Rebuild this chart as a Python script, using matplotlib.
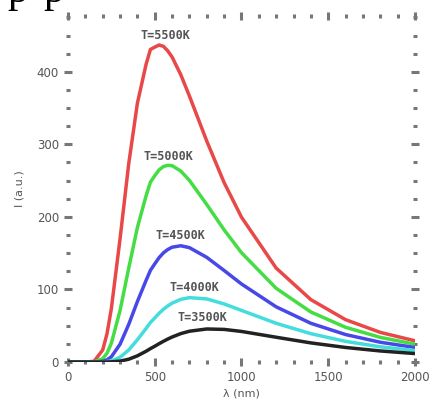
import matplotlib.pyplot as plt
from matplotlib.ticker import MultipleLocator

# wavelength (nm) and curve heights
wavelength = [0, 100, 150, 200, 225, 250, 300, 350, 400, 450, 475, 500, 525, 550, 575,
              600, 650, 700, 800, 900, 1000, 1200, 1400, 1600, 1800, 2000]
t5500 = [0, 0, 0.9, 16.5, 39.1, 73.8, 169.7, 273.2, 356.7, 410.2, 430.7, 434.0, 436.9,
         435.1, 428.9, 420.3, 396.0, 366.5, 304.4, 247.2, 199.6, 129.4, 85.9, 58.3,
         40.8, 29.2]
t5000 = [0, 0, 0.1, 4.5, 12.2, 25.9, 70.9, 129.3, 185.4, 229.0, 247.9, 256.7, 264.8,
         269.4, 271.1, 270.6, 263.2, 250.3, 217.0, 182.1, 150.6, 101.5, 68.9, 47.8,
         33.9, 24.5]
t4500 = [0, 0, 0, 0.9, 3.0, 7.2, 24.4, 51.8, 83.3, 112.4, 126.3, 135.2, 143.8,
         150.4, 155.0, 158.2, 160.2, 157.6, 144.2, 126.1, 107.5, 76.0, 53.3, 37.8,
         27.2, 20.0]
t4000 = [0, 0, 0, 0.1, 0.5, 1.5, 6.5, 16.5, 30.7, 46.2, 54.4, 60.7, 67.1,
         72.6, 77.2, 81.1, 86.3, 88.7, 86.9, 80.0, 71.1, 53.3, 39.0, 28.4,
         20.9, 15.7]
t3500 = [0, 0, 0, 0, 0, 0.2, 1.2, 3.8, 8.5, 14.8, 18.4, 21.7, 25.2,
         28.5, 31.6, 34.4, 39.1, 42.4, 45.5, 44.9, 42.1, 34.1, 26.3, 20.0,
         15.2, 11.6]

series = [t5500, t5000, t4500, t4000, t3500]
labels = ["T=5500K", "T=5000K", "T=4500K", "T=4000K", "T=3500K"]
colors = ["#e84848", "#44dd44", "#4848e8", "#44dddd", "#222222"]
label_x = [563, 580, 650, 730, 776]
label_y = [450, 283, 175, 103, 61]

fig = plt.figure(figsize=(4.37, 4.01), dpi=100)
ax = fig.add_axes([0.1556, 0.0973, 0.794, 0.863])

for vals, c in zip(series, colors):
    ax.plot(wavelength, vals, color=c, lw=2.5)

for lab, lx, ly in zip(labels, label_x, label_y):
    ax.text(lx, ly, lab, ha='center', va='center', fontsize=8.5,
            color='#555555', family='DejaVu Sans Mono', fontweight='bold')

ax.set_xlim(0, 2000)
ax.set_ylim(0, 477)
ax.xaxis.set_major_locator(MultipleLocator(500))
ax.xaxis.set_minor_locator(MultipleLocator(100))
ax.yaxis.set_major_locator(MultipleLocator(100))
ax.yaxis.set_minor_locator(MultipleLocator(25))

for s in ax.spines.values():
    s.set_visible(False)
ax.tick_params(which='both', direction='inout', top=True, right=True,
               colors='#777777', labelcolor='#555555', labelsize=8.5, width=2.2)
ax.tick_params(which='major', length=6)
ax.tick_params(which='minor', length=2.5)

ax.set_xlabel("λ (nm)", fontsize=8, color='#555555', labelpad=3)
ax.set_ylabel("I (a.u.)", fontsize=8, color='#555555', labelpad=9)

# cropped page text peeking in at the top
fig.text(7 / 437, 1 - 2 / 401, "p", family='Liberation Serif', fontsize=30,
         va='baseline', ha='left')
fig.text(43 / 437, 1 - 2 / 401, "p", family='Liberation Serif', fontsize=30,
         va='baseline', ha='left')

fig.savefig("out.png", dpi=100)
